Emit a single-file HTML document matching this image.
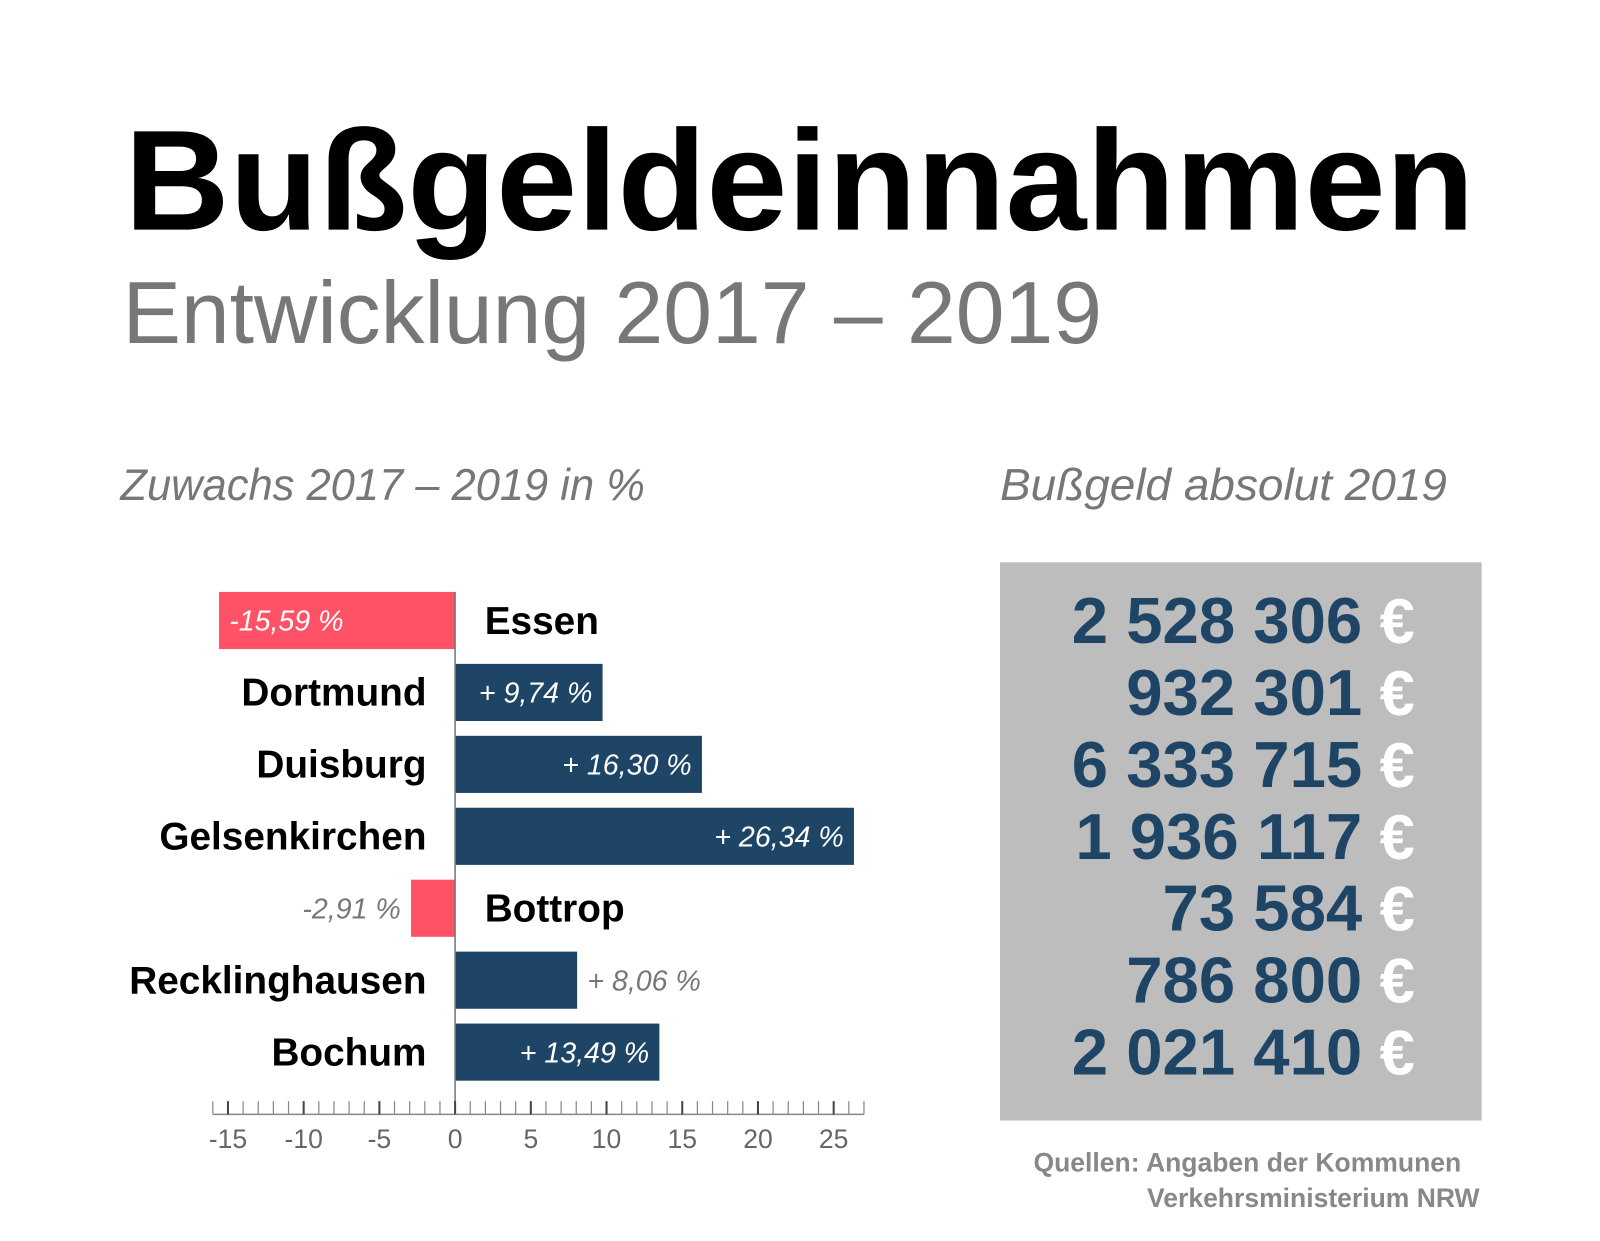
<!DOCTYPE html>
<html><head><meta charset="utf-8"><style>
html,body{margin:0;padding:0;background:#fff;}
svg{display:block;font-family:"Liberation Sans",sans-serif;}
</style></head><body>
<svg id="chart" width="1600" height="1241" viewBox="0 0 1568 1216" xmlns="http://www.w3.org/2000/svg">
<text x="122" y="225" font-size="140" font-weight="bold" fill="#000" textLength="1323" lengthAdjust="spacingAndGlyphs">Bußgeldeinnahmen</text>
<text x="120" y="336" font-size="86" fill="#777" textLength="960" lengthAdjust="spacingAndGlyphs">Entwicklung 2017 – 2019</text>
<text x="118" y="490" font-size="44" font-style="italic" fill="#777" textLength="514" lengthAdjust="spacingAndGlyphs">Zuwachs 2017 – 2019 in %</text>
<text x="980" y="490" font-size="44" font-style="italic" fill="#777" textLength="438" lengthAdjust="spacingAndGlyphs">Bußgeld absolut 2019</text>
<rect x="980" y="551" width="472" height="547" fill="#bdbdbd"/>
<g id="bars"></g>
<g id="axis"></g>
<g id="absvals"></g>
<text x="1432" y="1148" text-anchor="end" font-size="26" font-weight="bold" fill="#888">Quellen: Angaben der Kommunen</text>
<text x="1450" y="1183" text-anchor="end" font-size="26" font-weight="bold" fill="#888">Verkehrsministerium NRW</text>
</svg>
<script>
const cities = ["Essen","Dortmund","Duisburg","Gelsenkirchen","Bottrop","Recklinghausen","Bochum"];
const growth = [-15.59, 9.74, 16.30, 26.34, -2.91, 8.06, 13.49];
const growthLabels = ["-15,59 %","+ 9,74 %","+ 16,30 %","+ 26,34 %","-2,91 %","+ 8,06 %","+ 13,49 %"];
const absolute = ["2 528 306","932 301","6 333 715","1 936 117","73 584","786 800","2 021 410"];
const tickValues = [-15,-10,-5,0,5,10,15,20,25];
const axisMin = -16, axisMax = 27;

const NS = "http://www.w3.org/2000/svg";
const x0 = 446, unit = 14.84;
const xs = v => x0 + v * unit;
const rowY = i => 608 + i * 70.5;
const barH = 56;
function mk(tag, attrs, parent, txt){
  const e = document.createElementNS(NS, tag);
  for (const k in attrs) e.setAttribute(k, attrs[k]);
  if (txt !== undefined) e.textContent = txt;
  parent.appendChild(e); return e;
}
const gb = document.getElementById('bars');
growth.forEach((v, i) => {
  const y = rowY(i);
  const neg = v < 0;
  const r = mk('rect', {x: Math.min(xs(v), x0), y: y - barH/2, width: Math.abs(xs(v) - x0), height: barH, fill: neg ? '#ff5266' : '#1f4566'}, gb);
  
  
  const w = Math.abs(xs(v) - x0);
  let lab;
  if (w > 120) {
    lab = mk('text', {x: neg ? xs(v) + 10 : xs(v) - 10, y: y + 10, 'text-anchor': neg ? 'start' : 'end', 'font-size': 28, 'font-style': 'italic', fill: '#fff'}, gb, growthLabels[i]);
  } else {
    lab = mk('text', {x: neg ? xs(v) - 10 : xs(v) + 10, y: y + 10, 'text-anchor': neg ? 'end' : 'start', 'font-size': 28, 'font-style': 'italic', fill: '#777'}, gb, growthLabels[i]);
  }
  
  
  const name = mk('text', {x: neg ? 475 : 418, y: y + 13, 'text-anchor': neg ? 'start' : 'end', 'font-size': 38, 'font-weight': 'bold', fill: '#000'}, gb, cities[i]);
  
  
});
const ga = document.getElementById('axis');
const zl = mk('line', {x1: x0, x2: x0, y1: 580, y2: 1092, stroke: '#777', 'stroke-width': 1.5}, ga);


const al = mk('line', {x1: xs(axisMin), x2: xs(axisMax), y1: 1092, y2: 1092, stroke: '#888', 'stroke-width': 1.5}, ga);


for (let t = axisMin; t <= axisMax; t++) {
  const major = t % 5 === 0;
  const tk = mk('line', {x1: xs(t), x2: xs(t), y1: 1079, y2: 1092, stroke: major ? '#444' : '#888', 'stroke-width': major ? 2 : 1.2}, ga);
  
  
}
tickValues.forEach(t => {
  const tl = mk('text', {x: xs(t), y: 1125, 'text-anchor': 'middle', 'font-size': 26, fill: '#666'}, ga, String(t));
  
  
});
const gv = document.getElementById('absvals');
absolute.forEach((s, i) => {
  const y = rowY(i) + 22;
  const n = mk('text', {x: 1335, y: y, 'text-anchor': 'end', 'font-size': 64, 'font-weight': 'bold', fill: '#1f4566'}, gv, s);
  
  
  const e = mk('text', {x: 1352, y: y, 'font-size': 62, 'font-weight': 'bold', fill: '#fff'}, gv, '€');
  
  
});
</script>
</body></html>
